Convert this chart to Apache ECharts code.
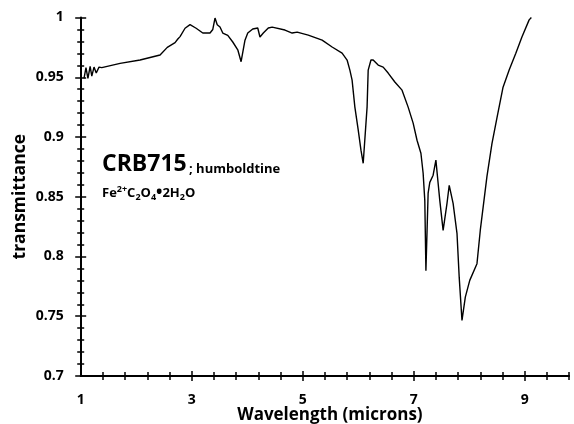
<!DOCTYPE html>
<html>
<head>
<meta charset="utf-8">
<script src="https://cdn.jsdelivr.net/npm/echarts@6/dist/echarts.min.js"></script>
<style>
  html, body { margin: 0; padding: 0; background: #fff; }
  #chart { width: 574px; height: 424px; }
</style>
</head>
<body>
<div id="chart"></div>
<script>
// espectro IR de humboldtina
const wavelength = [
  1.06, 1.095, 1.13, 1.17, 1.20, 1.24, 1.28, 1.33, 1.38, 1.71, 2.07, 2.43, 2.56, 2.70, 2.75, 2.79,
  2.88, 2.97, 3.08, 3.20, 3.33, 3.38, 3.42, 3.46, 3.51, 3.56, 3.65, 3.74, 3.83, 3.89, 3.96, 4.01,
  4.10, 4.19, 4.23, 4.29, 4.38, 4.45, 4.68, 4.81, 4.90, 5.10, 5.35, 5.53, 5.71, 5.80, 5.85, 5.89,
  5.94, 6.00, 6.05, 6.09, 6.16, 6.18, 6.23, 6.27, 6.36, 6.45, 6.54, 6.66, 6.79, 6.90, 6.99, 7.06,
  7.13, 7.17, 7.20, 7.22, 7.26, 7.29, 7.35, 7.40, 7.44, 7.47, 7.53, 7.60, 7.64, 7.71, 7.78, 7.82,
  7.87, 7.93, 8.01, 8.14, 8.20, 8.32, 8.41, 8.50, 8.61, 8.72, 8.84, 8.95, 9.08, 9.12
]
const transmittance = [
  0.949, 0.958, 0.949, 0.959, 0.951, 0.9585, 0.9535, 0.9585, 0.958, 0.9616, 0.9644, 0.9686, 0.975, 0.979, 0.982, 0.984,
  0.991, 0.994, 0.991, 0.987, 0.987, 0.990, 0.9995, 0.994, 0.992, 0.987, 0.985, 0.9795, 0.973, 0.963, 0.981, 0.987,
  0.9904, 0.9912, 0.9837, 0.987, 0.9912, 0.992, 0.9895, 0.987, 0.9878, 0.9853, 0.9811, 0.9753, 0.9702, 0.9644, 0.956, 0.9476,
  0.925, 0.906, 0.889, 0.878, 0.925, 0.956, 0.9644, 0.9644, 0.9602, 0.9585, 0.9535, 0.946, 0.9392, 0.925, 0.9116, 0.8973,
  0.8864, 0.8697, 0.847, 0.788, 0.853, 0.862, 0.868, 0.8806, 0.8613, 0.847, 0.8219, 0.8445, 0.8596, 0.8445, 0.8194, 0.7825,
  0.7465, 0.766, 0.78, 0.794, 0.822, 0.867, 0.8945, 0.916, 0.9417, 0.956, 0.970, 0.9837, 0.998, 1.0
]

const xLabelTicks = [1, 3, 5, 7, 9]
const xMajorTicks = [3, 5, 7, 9]
const xMinorTicks = [1.4, 1.8, 2.2, 2.6, 3.4, 3.8, 4.2, 4.6, 5.4, 5.8, 6.2, 6.6, 7.4, 7.8, 8.2, 8.6, 9.4, 9.8]
const yLabelTicks = [0.7, 0.75, 0.8, 0.85, 0.9, 0.95, 1]
const yMinorTicks = [
  0.71, 0.72, 0.73, 0.74, 0.76, 0.77, 0.78, 0.79, 0.81, 0.82, 0.83, 0.84, 0.86, 0.87, 0.88, 0.89,
  0.91, 0.92, 0.93, 0.94, 0.96, 0.97, 0.98, 0.99
]

const fontFamily = 'Open Sans'
const L = 80.7, R = 4.9, T = 17.5, B = 48
const XMIN = 1, XMAX = 9.8, YMIN = 0.7, YMAX = 1

const chart = echarts.init(document.getElementById('chart'), null, { renderer: 'canvas' })

const tickStyle = { color: '#000', width: 1.5 }
const hidden = (idx, min, max) => ({ type: 'value', gridIndex: idx, min, max, show: false })
const box = (o) => Object.assign({ containLabel: false, outerBoundsMode: 'none' }, o)

// las marcas cruzan los ejes: rejillas extra cuyo borde cae sobre el eje
const grids = [
  box({ left: L, right: R, top: T, bottom: B }),          // 0 principal
  box({ left: L, right: R, top: T, bottom: B }),          // 1 menores hacia fuera
  box({ left: L, right: R, top: 424 - B, height: 1 }),    // 2 x mayores hacia arriba
  box({ left: L, right: R, top: 424 - B, height: 1 }),    // 3 x menores hacia arriba
  box({ left: L - 1, width: 1, top: T, bottom: B }),      // 4 y mayores hacia dentro
  box({ left: L - 1, width: 1, top: T, bottom: B })       // 5 y menores hacia dentro
]

const xAxes = [
  {
    type: 'value',
    gridIndex: 0,
    min: XMIN,
    max: XMAX,
    name: 'Wavelength (microns)',
    nameLocation: 'middle',
    nameGap: 30.5,
    nameMoveOverlap: false,
    nameTextStyle: { color: '#000', fontFamily, fontWeight: 'bold', fontSize: 17, padding: [0, 0, 0, 10] },
    splitLine: { show: false },
    axisLine: { show: true, onZero: false, lineStyle: { color: '#000', width: 2 } },
    axisTick: { show: true, length: 5, customValues: xMajorTicks, lineStyle: tickStyle },
    axisLabel: { customValues: xLabelTicks, margin: 17, color: '#000', fontFamily, fontWeight: 'bold', fontSize: 14 }
  },
  {
    type: 'value', gridIndex: 1, min: XMIN, max: XMAX,
    splitLine: { show: false }, axisLine: { show: false }, axisLabel: { show: false },
    axisTick: { show: true, length: 4, customValues: xMinorTicks, lineStyle: tickStyle }
  },
  {
    type: 'value', gridIndex: 2, min: XMIN, max: XMAX, position: 'top',
    splitLine: { show: false }, axisLine: { show: false }, axisLabel: { show: false },
    axisTick: { show: true, length: 5, customValues: xMajorTicks, lineStyle: tickStyle }
  },
  {
    type: 'value', gridIndex: 3, min: XMIN, max: XMAX, position: 'top',
    splitLine: { show: false }, axisLine: { show: false }, axisLabel: { show: false },
    axisTick: { show: true, length: 4, customValues: xMinorTicks, lineStyle: tickStyle }
  },
  hidden(4, XMIN, XMAX),
  hidden(5, XMIN, XMAX)
]

const yAxes = [
  {
    type: 'value',
    gridIndex: 0,
    min: YMIN,
    max: YMAX,
    name: 'transmittance',
    nameLocation: 'middle',
    nameGap: 52,
    nameMoveOverlap: false,
    nameTextStyle: { color: '#000', fontFamily, fontWeight: 'bold', fontSize: 17.5 },
    splitLine: { show: false },
    axisLine: { show: true, onZero: false, lineStyle: { color: '#000', width: 2 } },
    axisTick: { show: true, length: 5.5, customValues: yLabelTicks, lineStyle: tickStyle },
    axisLabel: { customValues: yLabelTicks, margin: 17, color: '#000', fontFamily, fontWeight: 'bold', fontSize: 14 }
  },
  {
    type: 'value', gridIndex: 1, min: YMIN, max: YMAX,
    splitLine: { show: false }, axisLine: { show: false }, axisLabel: { show: false },
    axisTick: { show: true, length: 3.5, customValues: yMinorTicks, lineStyle: tickStyle }
  },
  hidden(2, YMIN, YMAX),
  hidden(3, YMIN, YMAX),
  {
    type: 'value', gridIndex: 4, min: YMIN, max: YMAX, position: 'right',
    splitLine: { show: false }, axisLine: { show: false }, axisLabel: { show: false },
    axisTick: { show: true, length: 5.5, customValues: yLabelTicks, lineStyle: tickStyle }
  },
  {
    type: 'value', gridIndex: 5, min: YMIN, max: YMAX, position: 'right',
    splitLine: { show: false }, axisLine: { show: false }, axisLabel: { show: false },
    axisTick: { show: true, length: 3.5, customValues: yMinorTicks, lineStyle: tickStyle }
  }
]

chart.setOption({
  backgroundColor: '#fff',
  animation: false,
  grid: grids,
  xAxis: xAxes,
  yAxis: yAxes,
  graphic: [
    {
      type: 'text',
      left: 102,
      top: 153,
      style: { text: 'CRB715', fill: '#000', font: 'bold 23px "Open Sans"' }
    },
    {
      type: 'text',
      left: 189,
      top: 163,
      style: { text: '; humboldtine', fill: '#000', font: 'bold 13px "Open Sans"' }
    },
    {
      type: 'text',
      left: 102,
      top: 185,
      style: {
        text: 'Fe{sup|2+}C{sub|2}O{sub|4}{dot|•}2H{sub|2}O',
        fill: '#000',
        fontFamily,
        fontWeight: 'bold',
        fontSize: 13,
        lineHeight: 17,
        rich: {
          sup: { fontFamily, fontWeight: 'bold', fontSize: 9, lineHeight: 9, verticalAlign: 'top' },
          sub: { fontFamily, fontWeight: 'bold', fontSize: 9, lineHeight: 9, verticalAlign: 'bottom' },
          dot: { fontFamily, fontWeight: 'bold', fontSize: 17, lineHeight: 17 }
        }
      }
    }
  ],
  series: [{
    type: 'line',
    xAxisIndex: 0,
    yAxisIndex: 0,
    data: wavelength.map((w, i) => [w, transmittance[i]]),
    showSymbol: false,
    symbol: 'none',
    lineStyle: { color: '#000', width: 1.4 }
  }]
})
</script>
</body>
</html>
